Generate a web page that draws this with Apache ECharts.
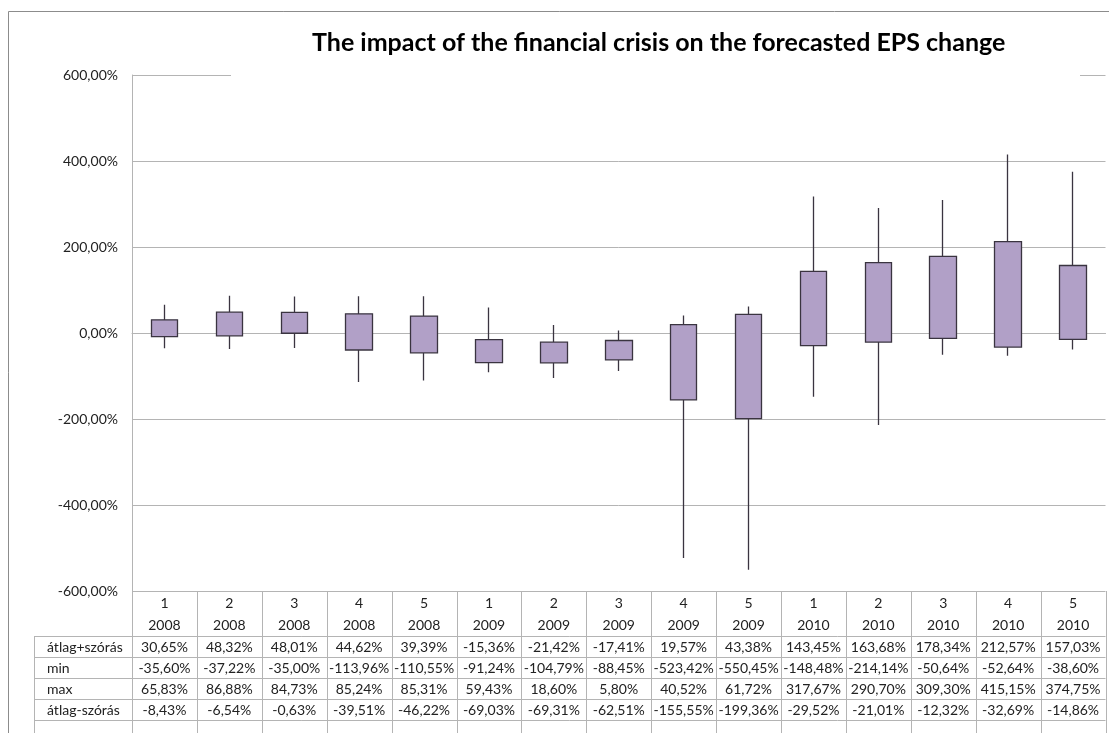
<!DOCTYPE html>
<html>
<head>
<meta charset="utf-8">
<script src="https://cdn.jsdelivr.net/npm/echarts@6/dist/echarts.min.js"></script>
<style>
    html, body { margin: 0; padding: 0; background: #fff; }
    #main { width: 1109px; height: 733px; }
</style>
</head>
<body>
<div id="main"></div>
<script>
// adatok
var periods = ['1', '2', '3', '4', '5', '1', '2', '3', '4', '5', '1', '2', '3', '4', '5'];
var years = ['2008', '2008', '2008', '2008', '2008', '2009', '2009', '2009', '2009', '2009', '2010', '2010', '2010', '2010', '2010'];
var upperValues = [30.65, 48.32, 48.01, 44.62, 39.39, -15.36, -21.42, -17.41, 19.57, 43.38, 143.45, 163.68, 178.34, 212.57, 157.03];
var minValues = [-35.60, -37.22, -35.00, -113.96, -110.55, -91.24, -104.79, -88.45, -523.42, -550.45, -148.48, -214.14, -50.64, -52.64, -38.60];
var maxValues = [65.83, 86.88, 84.73, 85.24, 85.31, 59.43, 18.60, 5.80, 40.52, 61.72, 317.67, 290.70, 309.30, 415.15, 374.75];
var lowerValues = [-8.43, -6.54, -0.63, -39.51, -46.22, -69.03, -69.31, -62.51, -155.55, -199.36, -29.52, -21.01, -12.32, -32.69, -14.86];
var rowLabels = ['átlag+szórás', 'min', 'max', 'átlag-szórás'];

var FONT = 'Lato';
var LINE = '#b4b4b4';

function fmtPct(v) {
    return v.toFixed(2).replace('.', ',') + '%';
}

var categories = [];
var candleData = [];
for (var i = 0; i < periods.length; i++) {
    categories.push(periods[i] + ' ' + years[i]);
    // [open, close, lowest, highest]
    candleData.push([lowerValues[i], upperValues[i], minValues[i], maxValues[i]]);
}

// táblázat vonalai és sorcímkék
var gridLeft = 132, gridRight = 1105.5, gridBottom = 591, tableTop = 636.5, rowH = 21;
var colW = (gridRight - gridLeft) / categories.length;
var tableGraphics = [];
tableGraphics.push({
    type: 'rect', silent: true,
    shape: { x: 8.5, y: 11.5, width: 1200, height: 800 },
    style: { fill: 'none', stroke: '#8c8c8c', lineWidth: 1 }
});
// a cím mögötti fehér sáv (eltakarja a felső rácsvonalat)
tableGraphics.push({
    type: 'rect', silent: true, z: 50,
    shape: { x: 231, y: 70, width: 849, height: 10 },
    style: { fill: '#fff' }
});
for (var r = 0; r <= rowLabels.length; r++) {
    var y = tableTop + r * rowH;
    tableGraphics.push({
        type: 'line', silent: true,
        shape: { x1: 34, y1: y, x2: gridRight, y2: y },
        style: { stroke: LINE, lineWidth: 1 }
    });
}
tableGraphics.push({
    type: 'line', silent: true,
    shape: { x1: 34.5, y1: tableTop, x2: 34.5, y2: 740 },
    style: { stroke: LINE, lineWidth: 1 }
});
for (var c = 0; c <= categories.length; c++) {
    var x = Math.round(gridLeft + c * colW) + 0.5;
    tableGraphics.push({
        type: 'line', silent: true,
        shape: { x1: x, y1: gridBottom, x2: x, y2: 740 },
        style: { stroke: LINE, lineWidth: 1 }
    });
}
for (var k = 0; k < rowLabels.length; k++) {
    tableGraphics.push({
        type: 'text', silent: true,
        x: 47, y: tableTop + k * rowH + rowH / 2,
        style: {
            text: rowLabels[k], fill: '#222', font: '14px ' + FONT,
            textAlign: 'left', textVerticalAlign: 'middle'
        }
    });
}

var option = {
    backgroundColor: '#fff',
    animation: false,
    title: {
        text: 'The impact of the financial crisis on the forecasted EPS change',
        left: 312,
        top: 30,
        padding: 0,
        textStyle: { fontFamily: FONT, fontWeight: 'bold', fontSize: 25, color: '#000' },
        z: 60
    },
    grid: { left: gridLeft, right: 1109 - gridRight, top: 75, bottom: 733 - gridBottom },
    xAxis: {
        type: 'category',
        data: categories,
        axisLine: { show: true, lineStyle: { color: LINE } },
        axisTick: { show: false },
        axisLabel: {
            interval: 0,
            margin: 1.5,
            formatter: function (value, idx) {
                return '{h|' + periods[idx] + '}\n{h|' + years[idx] + '}\n' +
                    '{d|' + fmtPct(upperValues[idx]) + '}\n' +
                    '{d|' + fmtPct(minValues[idx]) + '}\n' +
                    '{d|' + fmtPct(maxValues[idx]) + '}\n' +
                    '{d|' + fmtPct(lowerValues[idx]) + '}';
            },
            rich: {
                h: { fontFamily: FONT, fontSize: 14, color: '#222', lineHeight: 22 },
                d: { fontFamily: FONT, fontSize: 14, color: '#222', lineHeight: 21 }
            }
        },
        splitLine: { show: false }
    },
    yAxis: {
        type: 'value',
        min: -600,
        max: 600,
        interval: 200,
        axisLine: { show: true, lineStyle: { color: LINE } },
        axisTick: { show: false },
        axisLabel: {
            margin: 14,
            fontFamily: FONT, fontSize: 14, color: '#222',
            formatter: function (v) { return fmtPct(v); }
        },
        splitLine: { show: true, lineStyle: { color: LINE } }
    },
    series: [{
        type: 'candlestick',
        data: candleData,
        barWidth: 27,
        itemStyle: {
            color: '#b1a0c7', color0: '#b1a0c7',
            borderColor: '#3a3440', borderColor0: '#3a3440',
            borderWidth: 1.3
        }
    }],
    graphic: tableGraphics
};

var chart = echarts.init(document.getElementById('main'));
chart.setOption(option);
</script>
</body>
</html>
